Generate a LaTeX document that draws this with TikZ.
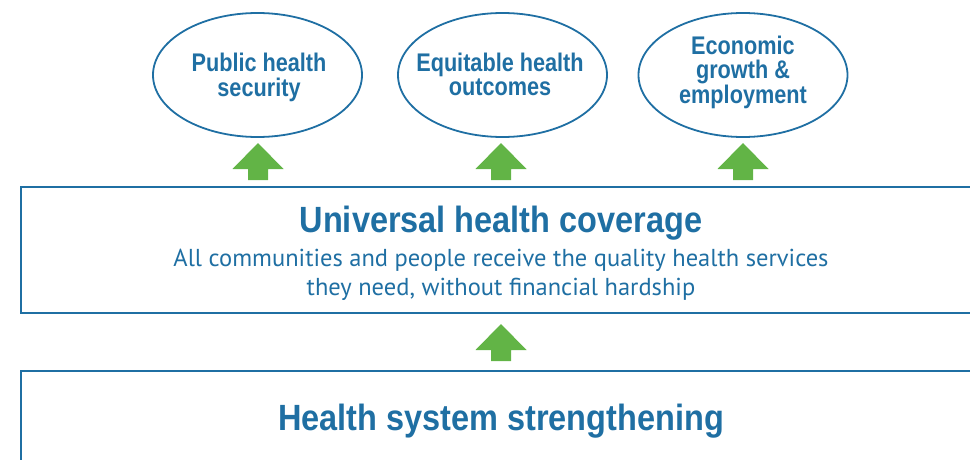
\documentclass[tikz,border=0pt]{standalone}
\usepackage{fontspec}
\usetikzlibrary{shapes.geometric}
\newfontfamily\condfont[FakeStretch=0.85]{Liberation Sans}
\newfontfamily\titlefont[FakeStretch=0.89]{Liberation Sans}
\newfontfamily\bodyfont{PT Sans}
\definecolor{whoblue}{HTML}{1F6FA3}
\definecolor{upgreen}{HTML}{62B446}
\tikzset{
  goal/.style={ellipse, draw=whoblue, line width=1.8pt, minimum width=209pt,
    minimum height=124pt, inner sep=0pt},
  goaltext/.style={text=whoblue, inner sep=0pt, anchor=base,
    font=\condfont\bfseries\fontsize{25.5}{24}\selectfont},
  band/.style={draw=whoblue, line width=2pt},
  headline/.style={text=whoblue, inner sep=0pt, anchor=base,
    font=\titlefont\bfseries\fontsize{36.5}{40}\selectfont},
  subline/.style={text=whoblue, inner sep=0pt, anchor=base,
    font=\bodyfont\fontsize{24.5}{29}\selectfont},
  uparrow/.style={fill=upgreen, draw=none}
}
% block arrow pointing up, tip at the given coordinate
\newcommand{\greenup}[1]{%
  \fill[uparrow] (#1) -- ++(25.5,26) -- ++(-15.5,0) -- ++(0,11) -- ++(-20,0)
    -- ++(0,-11) -- ++(-15.5,0) -- cycle;}
\begin{document}
\begin{tikzpicture}[x=1pt, y=-1pt]
  \useasboundingbox (0,0) rectangle (970,460);
  \clip (0,0) rectangle (970,460);

  % outcome ellipses
  \node[goal] (pub) at (257.5,75) {};
  \node[goal] (equ) at (502.5,75) {};
  \node[goal] (eco) at (743,75) {};

  \node[goaltext] (pub1) at (259,71.7) {Public health};
  \node[goaltext] (pub2) at (259,96.5) {security};
  \node[goaltext] (equ1) at (500,71.7) {Equitable health};
  \node[goaltext] (equ2) at (500,95.5) {outcomes};
  \node[goaltext] (eco1) at (743,55) {Economic};
  \node[goaltext] (eco2) at (743,79) {growth \&};
  \node[goaltext] (eco3) at (743,103.3) {employment};

  % coverage band
  \draw[band] (21,187) rectangle (985,313);
  \node[headline] (uhc) at (501,232.3) {Universal health coverage};
  \node[subline] (uhc1) at (501,266) {All communities and people receive the quality health services};
  \node[subline] (uhc2) at (501,295) {they need, without financial hardship};

  % strengthening band
  \draw[band] (21,371) rectangle (985,480);
  \node[headline] (hss) at (501,430) {Health system strengthening};

  % arrows between the levels
  \coordinate (upPub) at (258,143);
  \coordinate (upEqu) at (501,143);
  \coordinate (upEco) at (743,143);
  \coordinate (upUhc) at (501,324);
  \greenup{upPub}
  \greenup{upEqu}
  \greenup{upEco}
  \greenup{upUhc}
\end{tikzpicture}
\end{document}
